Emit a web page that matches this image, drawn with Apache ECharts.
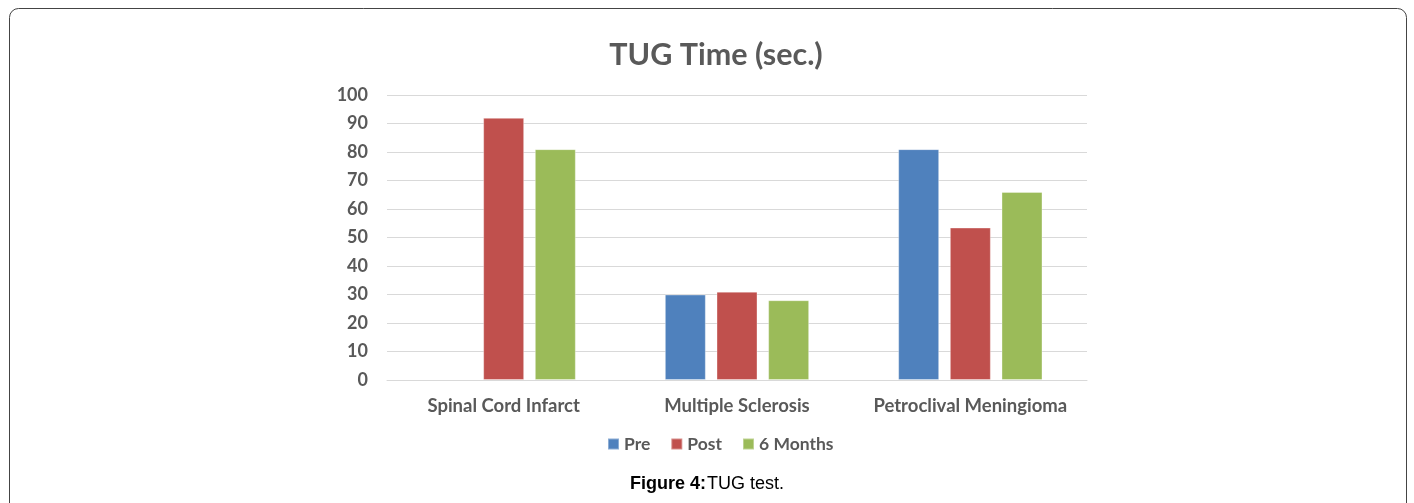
<!DOCTYPE html>
<html><head><meta charset="utf-8">
<script src="https://cdn.jsdelivr.net/npm/echarts@6/dist/echarts.min.js"></script>
<style>html,body{margin:0;padding:0;background:#fff;}#c{width:1414px;height:503px;}</style>
</head><body><div id="c"></div>
<script>
const categories = ['Spinal Cord Infarct', 'Multiple Sclerosis', 'Petroclival Meningioma'];
const preValues = [null, 30, 81];
const postValues = [92, 31, 53.5];
const sixMonthValues = [81, 28, 66];
const seriesNames = ['Pre', 'Post', '6 Months'];
const colors = ['#4F81BD', '#C0504D', '#9BBB59'];

const chart = echarts.init(document.getElementById('c'));
const lbl = {fontFamily: 'Lato', fontWeight: 'bold', fontSize: 18.5, color: '#595959'};
function mk(name, data, color) {
  return {name, type: 'bar', data, barWidth: 41, barGap: '26%',
    itemStyle: {color, borderColor: 'rgba(255,255,255,0.35)', borderWidth: 1}};
}
chart.setOption({
  animation: false,
  legend: {data: seriesNames, left: 602, top: 430, itemWidth: 11, itemHeight: 11, itemGap: 20,
    icon: 'rect', textStyle: Object.assign({}, lbl, {fontSize: 17.5})},
  grid: {left: 387, right: 327, top: 95, bottom: 123},
  xAxis: {type: 'category', data: categories,
    axisLine: {lineStyle: {color: '#d9d9d9', width: 1}}, axisTick: {show: false},
    axisLabel: Object.assign({margin: 17, interval: 0}, lbl)},
  yAxis: {type: 'value', min: 0, max: 100, interval: 10,
    axisLine: {show: false}, axisTick: {show: false},
    splitLine: {lineStyle: {color: '#d9d9d9', width: 1}},
    axisLabel: Object.assign({margin: 19}, lbl, {fontSize: 18})},
  series: [mk(seriesNames[0], preValues, colors[0]), mk(seriesNames[1], postValues, colors[1]), mk(seriesNames[2], sixMonthValues, colors[2])],
  graphic: [
    {type: 'rect', shape: {x: 9.5, y: 8.5, width: 1397, height: 505, r: 9}, style: {fill: 'none', stroke: '#444', lineWidth: 1}},
    {type: 'text', x: 716, y: 55, style: {text: 'TUG Time (sec.)', align: 'center', verticalAlign: 'middle',
      font: 'bold 30.5px Lato', fill: '#595959'}},
    {type: 'text', x: 630, y: 484, style: {text: 'Figure 4:', verticalAlign: 'middle', font: 'bold 18px "Liberation Sans"', fill: '#000'}},
    {type: 'text', x: 707, y: 484, style: {text: 'TUG test.', verticalAlign: 'middle', font: '18px "Liberation Sans"', fill: '#000'}}
  ]
});
</script></body></html>
